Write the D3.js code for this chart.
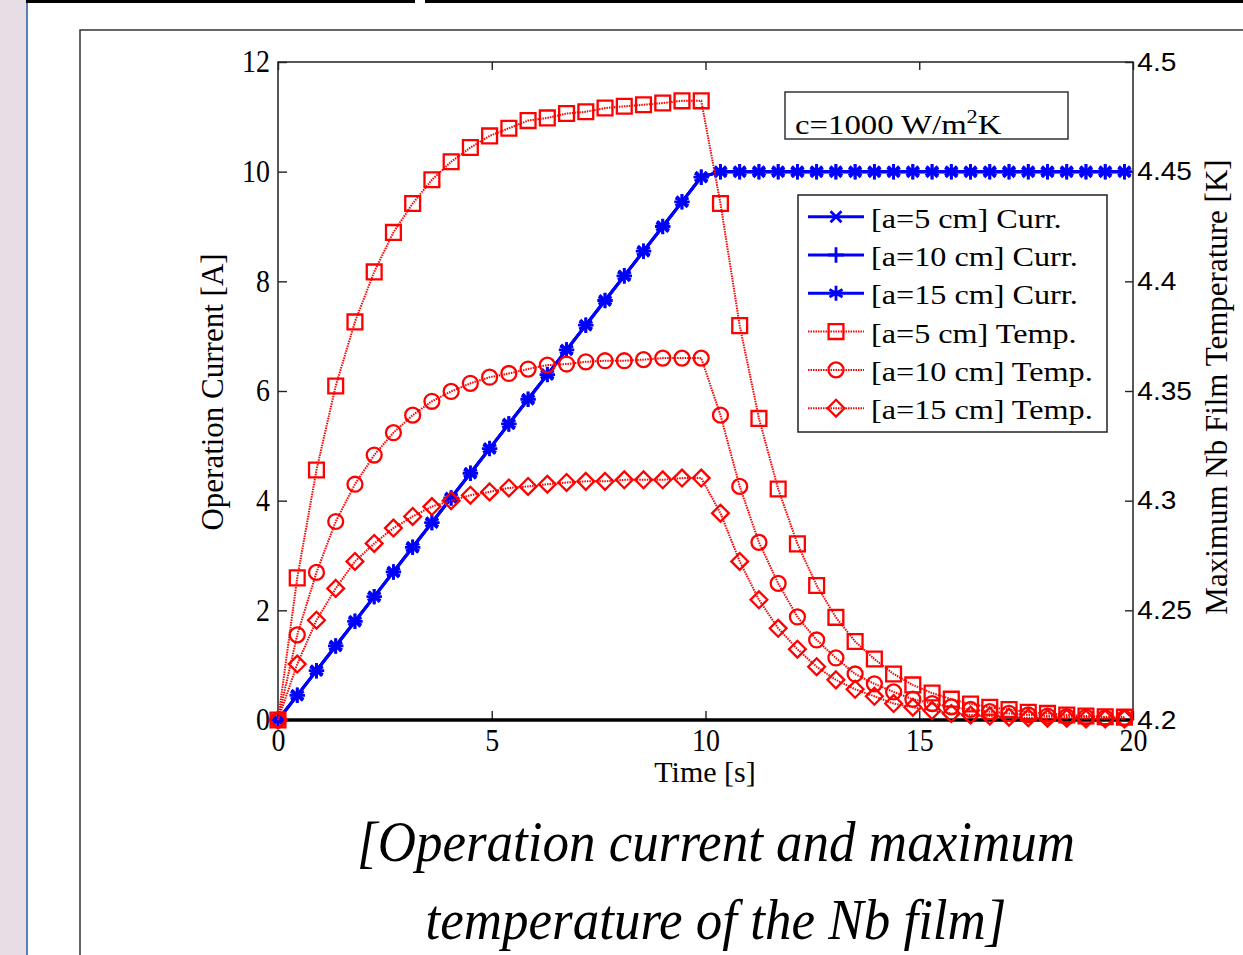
<!DOCTYPE html>
<html>
<head>
<meta charset="utf-8">
<script src="https://cdn.jsdelivr.net/npm/d3@7"></script>
<style>
  body { margin: 0; background: #fff; overflow: hidden; }
  text { font-family: "Liberation Serif", "Times New Roman", serif; fill: #000; }
</style>
</head>
<body>
<div id="chart"></div>
<script>
// sample times [s]
const timeS = [0, 0.45, 0.9, 1.35, 1.8, 2.25, 2.7, 3.15, 3.6, 4.05, 4.5, 4.95, 5.4, 5.85, 6.3,
  6.75, 7.2, 7.65, 8.1, 8.55, 9, 9.45, 9.9, 10.35, 10.8, 11.25, 11.7, 12.15, 12.6, 13.05, 13.5,
  13.95, 14.4, 14.85, 15.3, 15.75, 16.2, 16.65, 17.1, 17.55, 18, 18.45, 18.9, 19.35, 19.8];

// operation current [A] (same for all three a values)
const currentA = [0, 0.45, 0.9, 1.35, 1.8, 2.25, 2.7, 3.15, 3.6, 4.05, 4.5, 4.95, 5.4, 5.85, 6.3,
  6.75, 7.2, 7.65, 8.1, 8.55, 9, 9.45, 9.9, 10, 10, 10, 10, 10, 10, 10, 10,
  10, 10, 10, 10, 10, 10, 10, 10, 10, 10, 10, 10, 10, 10];

// maximum Nb film temperature [K]
const tempA5 = [4.2, 4.2648, 4.314, 4.3523, 4.3815, 4.4043, 4.4223, 4.4355, 4.4463, 4.4545,
  4.461, 4.4663, 4.4698, 4.4733, 4.4745, 4.4765, 4.4773, 4.479, 4.4798, 4.4805,
  4.4813, 4.4823, 4.4823, 4.4355, 4.3798, 4.3375, 4.3053, 4.2803, 4.2613, 4.2468,
  4.2358, 4.2278, 4.221, 4.216, 4.2123, 4.2095, 4.2073, 4.2058, 4.2048, 4.2035,
  4.203, 4.2023, 4.2018, 4.2015, 4.2013];
const tempA10 = [4.2, 4.2388, 4.2673, 4.2905, 4.3075, 4.3208, 4.331, 4.339, 4.3453, 4.3498,
  4.3535, 4.3563, 4.358, 4.36, 4.3618, 4.3623, 4.3633, 4.3638, 4.3638, 4.3643,
  4.365, 4.365, 4.365, 4.339, 4.3065, 4.281, 4.2623, 4.247, 4.2365, 4.2283,
  4.221, 4.2165, 4.2128, 4.2095, 4.2075, 4.206, 4.2048, 4.2038, 4.203, 4.2023,
  4.2018, 4.2015, 4.2013, 4.201, 4.2008];
const tempA15 = [4.2, 4.2255, 4.2455, 4.26, 4.2723, 4.2805, 4.2875, 4.2928, 4.2973, 4.3,
  4.3025, 4.304, 4.3058, 4.3065, 4.3075, 4.3083, 4.3088, 4.3088, 4.3095, 4.3095,
  4.3095, 4.3103, 4.3103, 4.2943, 4.2723, 4.2548, 4.2418, 4.2323, 4.2243, 4.2183,
  4.214, 4.2108, 4.2075, 4.2058, 4.2043, 4.203, 4.2023, 4.2018, 4.2013, 4.201,
  4.2008, 4.2008, 4.2005, 4.2005, 4.2005];

const seriesNames = ['[a=5 cm] Curr.', '[a=10 cm] Curr.', '[a=15 cm] Curr.',
  '[a=5 cm] Temp.', '[a=10 cm] Temp.', '[a=15 cm] Temp.'];

const timeTicks = [0, 5, 10, 15, 20];
const currentTicks = [0, 2, 4, 6, 8, 10, 12];
const tempTicks = [4.2, 4.25, 4.3, 4.35, 4.4, 4.45, 4.5];

const width = 1243;
const height = 955;
const plot = { left: 278, right: 1133, top: 62, bottom: 720 };

const svg = d3.select('#chart')
  .append('svg')
  .attr('width', width)
  .attr('height', height);

// slide decorations
svg.append('rect').attr('x', 0).attr('y', 0).attr('width', 26).attr('height', height).attr('fill', '#e6dee4');
svg.append('line').attr('x1', 27).attr('x2', 27).attr('y1', 0).attr('y2', height)
  .attr('stroke', '#5a7fb6').attr('stroke-width', 2);
svg.append('rect').attr('x', 26).attr('y', 0).attr('width', 389).attr('height', 3).attr('fill', '#000');
svg.append('rect').attr('x', 425).attr('y', 0).attr('width', 818).attr('height', 3).attr('fill', '#000');
svg.append('path').attr('d', 'M80,955V30H1243')
  .attr('fill', 'none').attr('stroke', '#333').attr('stroke-width', 1.5);

const xScale = d3.scaleLinear().domain([0, 20]).range([plot.left, plot.right]);
const yLeft = d3.scaleLinear().domain([0, 12]).range([plot.bottom, plot.top]);
const yRight = d3.scaleLinear().domain([4.2, 4.5]).range([plot.bottom, plot.top]);

// axes, ticks pointing inwards
const xAxis = d3.axisBottom(xScale).tickValues(timeTicks).tickSizeInner(-9).tickSizeOuter(0).tickPadding(9);
const xTop = d3.axisTop(xScale).tickValues(timeTicks).tickSizeInner(-8).tickSizeOuter(0).tickFormat('');
const yAxisL = d3.axisLeft(yLeft).tickValues(currentTicks).tickSizeInner(-9).tickSizeOuter(0).tickPadding(8);
const yAxisR = d3.axisRight(yRight).tickValues(tempTicks).tickSizeInner(-8).tickSizeOuter(0).tickPadding(4)
  .tickFormat(d3.format('~g'));

const gx = svg.append('g').attr('transform', 'translate(0,' + plot.bottom + ')').call(xAxis);
const gt = svg.append('g').attr('transform', 'translate(0,' + plot.top + ')').call(xTop);
const gl = svg.append('g').attr('transform', 'translate(' + plot.left + ',0)').call(yAxisL);
const gr = svg.append('g').attr('transform', 'translate(' + plot.right + ',0)').call(yAxisR);

[gx, gt, gl, gr].forEach(g => {
  g.select('.domain').remove();
  g.selectAll('.tick line').attr('stroke', '#222').attr('stroke-width', 1.4);
});
// tick digits are a little narrow and tall in the reference
gx.selectAll('text')
  .style('font-size', '31px').style('font-family', '"Liberation Serif", serif')
  .attr('transform', 'scale(0.9,1)');
gl.selectAll('text')
  .style('font-size', '31px').style('font-family', '"Liberation Serif", serif')
  .attr('x', -9).attr('transform', 'scale(0.9,1)');
gr.selectAll('text')
  .style('font-size', '26px').style('font-family', '"Liberation Sans", Arial, sans-serif')
  .attr('x', 4).attr('transform', 'scale(1.08,1)');

svg.append('rect')
  .attr('x', plot.left).attr('y', plot.top)
  .attr('width', plot.right - plot.left).attr('height', plot.bottom - plot.top)
  .attr('fill', 'none').attr('stroke', '#222').attr('stroke-width', 1.5);

svg.append('line')
  .attr('x1', plot.left).attr('x2', plot.right)
  .attr('y1', yLeft(0)).attr('y2', yLeft(0))
  .attr('stroke', '#000').attr('stroke-width', 3.5);

// axis titles
svg.append('text').attr('x', 705).attr('y', 782).attr('text-anchor', 'middle')
  .style('font-size', '30px').text('Time [s]');
svg.append('text').attr('transform', 'translate(223,392) rotate(-90)').attr('text-anchor', 'middle')
  .style('font-size', '31px').text('Operation Current [A]');
svg.append('text').attr('transform', 'translate(1227,387) rotate(-90)').attr('text-anchor', 'middle')
  .style('font-size', '31px').text('Maximum Nb Film Temperature [K]');

// marker types (stroke symbols of d3)
const blue = '#0000ff';
const red = '#ff0000';

const series = [
  { name: seriesNames[0], values: currentA, y: yLeft, color: blue, type: d3.symbolTimes, size: 80, dotted: false },
  { name: seriesNames[1], values: currentA, y: yLeft, color: blue, type: d3.symbolPlus, size: 80, dotted: false },
  { name: seriesNames[2], values: currentA, y: yLeft, color: blue, type: d3.symbolAsterisk, size: 160, dotted: false },
  { name: seriesNames[3], values: tempA5, y: yRight, color: red, type: d3.symbolSquare2, size: 280, dotted: true },
  { name: seriesNames[4], values: tempA10, y: yRight, color: red, type: d3.symbolCircle, size: 175, dotted: true },
  { name: seriesNames[5], values: tempA15, y: yRight, color: red, type: d3.symbolDiamond2, size: 180, dotted: true }
];

const styleLine = (sel, s) => sel
  .attr('fill', 'none')
  .attr('stroke', s.color)
  .attr('stroke-width', s.dotted ? 2 : 3)
  .attr('stroke-dasharray', s.dotted ? '1.5,1' : null);

series.forEach(s => {
  const line = d3.line()
    .x((d, i) => xScale(timeS[i]))
    .y(d => s.y(d));

  svg.append('path')
    .datum(s.values)
    .attr('d', line)
    .call(styleLine, s);

  svg.append('g').selectAll('path')
    .data(s.values)
    .enter()
    .append('path')
    .attr('transform', (d, i) => 'translate(' + xScale(timeS[i]) + ',' + s.y(d) + ')')
    .attr('d', d3.symbol().type(s.type).size(s.size))
    .attr('fill', 'none')
    .attr('stroke', s.color)
    .attr('stroke-width', s.dotted ? 2.3 : 2.8);
});

// annotation box
svg.append('rect').attr('x', 785).attr('y', 92).attr('width', 283).attr('height', 47)
  .attr('fill', '#fff').attr('stroke', '#333').attr('stroke-width', 1.5);
const note = svg.append('text').attr('transform', 'translate(795,134) scale(1.17,1)')
  .style('font-size', '28px');
note.append('tspan').text('c=1000 W/m');
note.append('tspan').attr('dy', -11).style('font-size', '19px').text('2');
note.append('tspan').attr('dy', 11).text('K');

// legend
const legend = svg.append('g');
legend.append('rect').attr('x', 798).attr('y', 195).attr('width', 309).attr('height', 237)
  .attr('fill', '#fff').attr('stroke', '#222').attr('stroke-width', 1.5);

const rowY = i => 216.7 + i * 38.3;
series.forEach((s, i) => {
  legend.append('line')
    .attr('x1', 808).attr('x2', 864)
    .attr('y1', rowY(i)).attr('y2', rowY(i))
    .call(styleLine, s);
  legend.append('path')
    .attr('transform', 'translate(836,' + rowY(i) + ')')
    .attr('d', d3.symbol().type(s.type).size(s.size))
    .attr('fill', 'none')
    .attr('stroke', s.color)
    .attr('stroke-width', s.dotted ? 2.3 : 2.8);
  legend.append('text')
    .attr('transform', 'translate(871,' + (rowY(i) + 11) + ') scale(1.15,1)')
    .style('font-size', '28px')
    .text(s.name);
});

// caption below the figure
const caption = ['[Operation current and maximum', 'temperature of the Nb film]'];
caption.forEach((t, i) => {
  svg.append('text')
    .attr('transform', 'translate(716,' + (861 + i * 78) + ') scale(0.93,1)')
    .attr('text-anchor', 'middle')
    .style('font-size', '57px')
    .style('font-style', 'italic')
    .text(t);
});
</script>
</body>
</html>
